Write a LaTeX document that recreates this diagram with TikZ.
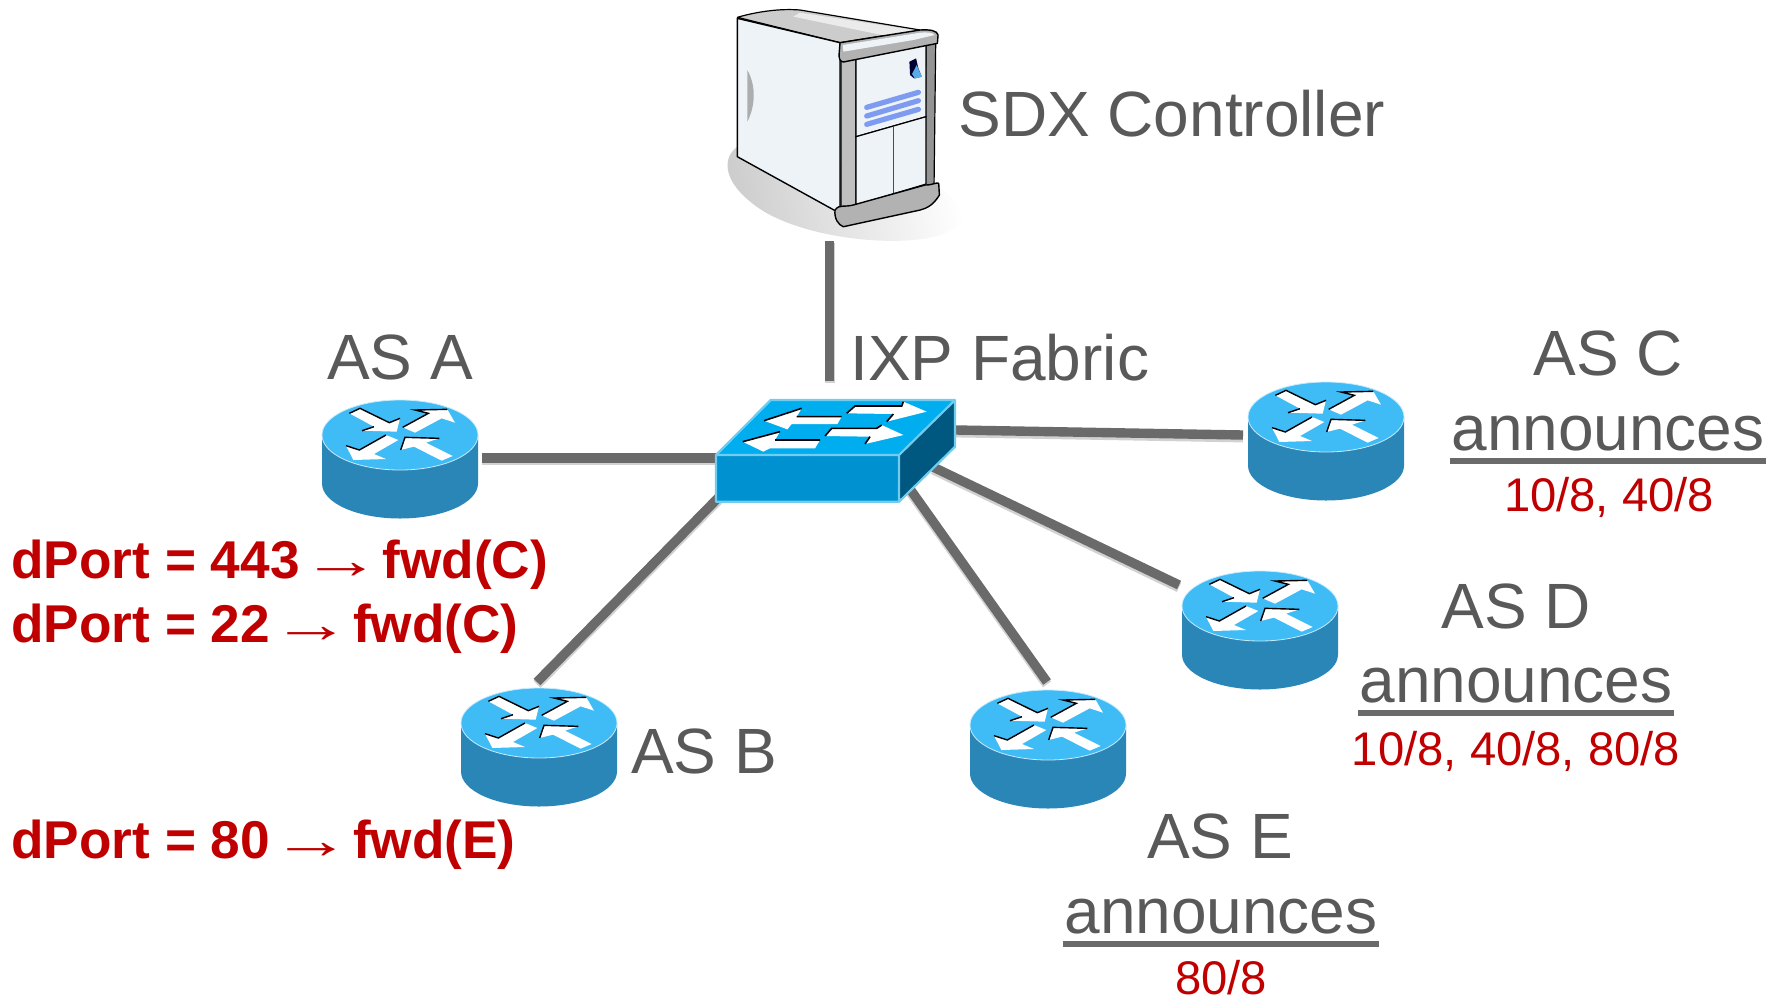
\documentclass[tikz,border=0pt]{standalone}
\usepackage{fontspec}
\setmainfont{Liberation Sans}
\newfontfamily\arrowfont{Liberation Serif}
\definecolor{txtgray}{HTML}{595959}
\definecolor{redtxt}{HTML}{C00000}
\definecolor{linkgray}{HTML}{6A6A6A}
\definecolor{rtop}{HTML}{3FBBF5}
\definecolor{rside}{HTML}{2B86B8}
\definecolor{stop}{HTML}{00AEEF}
\definecolor{sfront}{HTML}{0091D0}
\definecolor{sside}{HTML}{00577F}
\definecolor{sedge}{HTML}{70CDEF}
\definecolor{blueline}{HTML}{7D9BF0}
\definecolor{knob}{HTML}{5AAAE6}
\definecolor{panel}{HTML}{EEF3F8}
\newcommand{\fs}[1]{\fontsize{#1}{#1}\selectfont}
\newcommand{\ulword}[1]{\setbox0\hbox{#1}\rlap{\kern-.5pt\color{linkgray}\rule[-7pt]{\dimexpr\wd0+1pt}{3pt}}\box0}
\newcommand{\thinarrow}{\kern-6.6pt\scalebox{1.5}[1]{\arrowfont\mdseries →}\kern-6.6pt}
\tikzset{
 lbl/.style={anchor=base,inner sep=0pt,text=txtgray,font=\fs{32}},
 lbll/.style={anchor=base west,inner sep=0pt,text=txtgray,font=\fs{32}},
 prefixlbl/.style={anchor=base,inner sep=0pt,text=redtxt,font=\fs{23.6}},
 rulelbl/.style={anchor=base west,inner sep=0pt,text=redtxt,font=\fs{26.6}\bfseries},
 linkline/.style={line width=4.7pt,linkgray},
 linkshade/.style={line width=5pt,black!18},
 router/.pic={
  \fill[rside] (-78,0) -- (-78,48.5) arc[start angle=180,end angle=0,x radius=78,y radius=35] -- (78,0) -- cycle;
  \fill[rtop,draw=white!70!rtop,line width=.4pt] (0,0) ellipse[x radius=78,y radius=35];
  \begin{scope}[scale=.3333]
   \fill[white] (-152,-65)--(-120,-80)--(-32,-37)--(0,-50)--(-10,-10)--(-114,-13)--(-78,-25)--cycle;
   \draw[black,line width=.7pt] (-152,-65)--(-120,-80)--(-32,-37)--(0,-50);
   \draw[black,line width=.7pt] (-114,-13)--(-78,-25);
   \fill[white] (8,-23)--(85,-65)--(45,-75)--(142,-77)--(165,-37)--(125,-50)--(45,-7)--cycle;
   \draw[black,line width=.7pt] (8,-23)--(85,-65)--(45,-75)--(142,-77);
   \fill[white] (-5,15)--(-42,0)--(-122,45)--(-162,32)--(-140,75)--(-42,72)--(-78,57)--cycle;
   \draw[black,line width=.7pt] (-42,0)--(-122,45)--(-162,32);
   \fill[white] (2,45)--(15,7)--(118,10)--(78,23)--(158,63)--(125,77)--(42,35)--cycle;
   \draw[black,line width=.7pt] (2,45)--(15,7)--(118,10);
  \end{scope}
 }
}
\begin{document}
\begin{tikzpicture}[x=.5pt,y=-.5pt]
\useasboundingbox (0,0) rectangle (1783,997);
% anchors of the links
\coordinate (ctrlEnd) at (829.5,241);
\coordinate (swTop) at (829.5,381);
\coordinate (aEnd) at (482,458);
\coordinate (swA) at (717,458);
\coordinate (swC) at (956,430);
\coordinate (cEnd) at (1243,435);
\coordinate (swD) at (933,467);
\coordinate (dEnd) at (1179,585);
\coordinate (swE) at (910,489);
\coordinate (eEnd) at (1047,682);
\coordinate (swB) at (719,497);
\coordinate (bEnd) at (537,682);
% soft shadows of links
\foreach \p/\q in {ctrlEnd/swTop,aEnd/swA,swC/cEnd,swD/dEnd,swE/eEnd,swB/bEnd}{
 \draw[linkshade] ([yshift=-1.2pt]\p) -- ([yshift=-1.2pt]\q);
}
\draw[linkline] (ctrlEnd) -- (swTop);
\draw[linkline] (aEnd) -- (swA);
\draw[linkline] (swC) -- (cEnd);
\draw[linkline] (swD) -- (dEnd);
\draw[linkline] (swE) -- (eEnd);
\draw[linkline] (swB) -- (bEnd);
% routers
\pic at (400,435) {router};
\pic at (539,723) {router};
\pic at (1326,417) {router};
\pic at (1260,606) {router};
\pic at (1048,725) {router};
% switch
\begin{scope}[shift={(700,380)},x=.1667pt,y=-.1667pt]
 \fill[stop] (48,225)--(212,60)--(765,60)--(597,225)--cycle;
 \fill[sfront] (48,225)--(597,225)--(597,365)--(48,365)--cycle;
 \fill[sside] (597,225)--(765,60)--(765,200)--(597,365)--cycle;
 \draw[sedge,line width=1.1pt,line join=round] (48,365)--(48,225)--(212,60)--(765,60)--(765,200)--(597,365)--cycle (48,225)--(597,225)--(765,60) (597,225)--(597,365);
 \fill[white] (192,122)--(305,85)--(290,110)--(425,110)--(412,132)--(275,132)--(262,148)--cycle;
 \draw[black,line width=.8pt] (192,122)--(305,85) (290,110)--(425,110);
 \fill[white] (440,100)--(465,78)--(605,78)--(610,65)--(680,95)--(560,125)--(580,102)--cycle;
 \draw[black,line width=.8pt] (440,100)--(465,78)--(605,78)--(610,65) (560,125)--(580,102);
 \fill[white] (128,185)--(240,155)--(225,180)--(360,180)--(345,205)--(210,205)--(190,215)--cycle;
 \draw[black,line width=.8pt] (128,185)--(240,155) (225,180)--(360,180);
 \fill[white] (375,168)--(395,145)--(530,145)--(545,135)--(610,165)--(495,192)--(510,170)--cycle;
 \draw[black,line width=.8pt] (375,168)--(395,145)--(530,145)--(545,135) (495,192)--(510,170);
\end{scope}
% server
\begin{scope}[shift={(700,0)},x=.1667pt,y=-.1667pt]
 \shade[left color=black!20,right color=white,shading angle=100] (112,440) .. controls (70,470) and (60,540) .. (170,620) .. controls (280,700) and (520,740) .. (680,715) .. controls (760,700) and (810,660) .. (790,630) .. controls (770,600) and (730,570) .. (700,550) -- cycle;
 \fill[black!20,draw=black,line width=.6pt,line join=round] (112,52) .. controls (170,35) and (240,25) .. (300,30) -- (660,90) -- (420,128) -- cycle;
 \fill[black!8] (300,38) -- (655,92) -- (560,108) -- (280,50) -- cycle;
 \fill[panel,draw=black,line width=.7pt,line join=round] (112,55) -- (420,128) -- (420,640) -- (112,470) -- cycle;
 \fill[black!32] (142,210) .. controls (170,260) and (165,320) .. (142,365) -- cycle;
 \fill[black!25,draw=black,line width=.6pt] (423,170) -- (468,170) -- (468,620) -- (423,632) -- cycle;
 \fill[black!42,draw=black,line width=.6pt] (678,130) -- (707,125) -- (702,555) -- (675,562) -- cycle;
 \fill[panel,draw=black,line width=.6pt] (468,170) -- (678,125) -- (678,350) -- (468,410) -- cycle;
 \fill[panel,draw=black,line width=.6pt] (468,410) -- (678,350) -- (678,552) -- (468,615) -- cycle;
 \draw[black!70,line width=.5pt] (581,380) -- (581,578);
 \fill[black!30,draw=black,line width=.7pt,line join=round] (420,128) -- (660,90) .. controls (690,88) and (712,92) .. (714,105) -- (712,130) -- (430,186) .. controls (420,185) and (417,175) .. (417,165) -- cycle;
 \fill[panel] (428,135) -- (660,98) .. controls (680,96) and (700,98) .. (704,105) -- (640,120) -- (430,155) -- cycle;
 \fill[black!30,draw=black,line width=.7pt,line join=round] (405,630) .. controls (420,610) and (430,625) .. (470,612) -- (675,555) .. controls (700,555) and (712,545) .. (716,550) -- (718,585) .. controls (700,615) and (680,625) .. (660,630) -- (430,680) .. controls (415,675) and (402,655) .. (405,630) -- cycle;
 \draw[blueline,line width=2.6pt,line cap=round] (500,322) -- (655,277) (500,348) -- (655,302) (500,373) -- (655,328);
 \fill[black!80!blue] (628,185) -- (648,175) -- (655,205) -- (665,230) -- (642,235) -- (630,225) -- cycle;
 \fill[knob] (650,195) -- (655,207) -- (666,230) -- (645,236) -- (636,222) -- cycle;
\end{scope}
% texts
\node[lbll] (sdx) at (958,136) {SDX Controller};
\node[lbl] (asa) at (400,379) {AS A};
\node[lbll] (ixp) at (850,380) {IXP Fabric};
\node[lbl] (asc) at (1608,375) {AS C};
\node[lbl] (annc) at (1608,450) {\ulword{announces}};
\node[prefixlbl] (pc) at (1609,511) {10/8, 40/8};
\node[lbl] (asd) at (1516,628) {AS D};
\node[lbl] (annd) at (1516,702) {\ulword{announces}};
\node[prefixlbl] (pd) at (1516,765) {10/8, 40/8, 80/8};
\node[lbl] (asb) at (704,773) {AS B};
\node[lbl] (ase) at (1220,858) {AS E};
\node[lbl] (anne) at (1221,933) {\ulword{announces}};
\node[prefixlbl] (pe) at (1221,994) {80/8};
\node[rulelbl] (r1) at (11,578) {dPort = 443 \thinarrow{} fwd(C)};
\node[rulelbl] (r2) at (11,642) {dPort = 22 \thinarrow{} fwd(C)};
\node[rulelbl] (r3) at (11,858) {dPort = 80 \thinarrow{} fwd(E)};
\end{tikzpicture}
\end{document}
